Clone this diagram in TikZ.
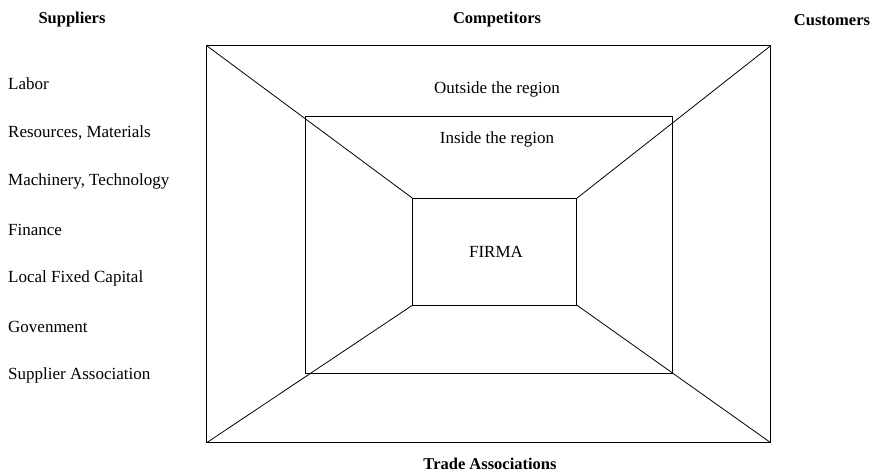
\documentclass[tikz,border=0pt]{standalone}
\usepackage{fontspec}
\setmainfont{Liberation Serif}
\begin{document}
\begin{tikzpicture}[x=1pt,y=-1pt,
  box/.style={draw, line width=0.9pt, inner sep=0pt, outer sep=0pt},
  diag/.style={line width=0.8pt},
  head/.style={font=\fontsize{16.5}{19}\selectfont\bfseries, inner sep=0pt},
  lbl/.style={font=\fontsize{17}{20}\selectfont, inner sep=0pt},
  item/.style={font=\fontsize{17}{20}\selectfont, inner sep=0pt, anchor=west}]
\useasboundingbox (0,0) rectangle (875,472);
\node[box, minimum width=564pt, minimum height=397pt] (outer) at (488.7,244.2) {};
\node[box, minimum width=367pt, minimum height=256.6pt] (middle) at (488.5,245) {};
\node[box, minimum width=164pt, minimum height=106.7pt] (inner) at (494.7,251.7) {};
\draw[diag] (outer.north west) -- (inner.north west);
\draw[diag] (outer.north east) -- (inner.north east);
\draw[diag] (outer.south west) -- (inner.south west);
\draw[diag] (outer.south east) -- (inner.south east);
\node[head] (sup) at (72,20) {Suppliers};
\node[head] (comp) at (497,20) {Competitors};
\node[head] (cust) at (832,20) {Customers};
\node[head] (trade) at (490,464) {Trade Associations};
\node[lbl] (outside) at (497,89) {Outside the region};
\node[lbl] (insider) at (497,139) {Inside the region};
\node[lbl] (firma) at (496,252) {FIRMA};
\node[item] (l1) at (8,84) {Labor};
\node[item] (l2) at (8,133) {Resources, Materials};
\node[item] (l3) at (8,181) {Machinery, Technology};
\node[item] (l4) at (8,230) {Finance};
\node[item] (l5) at (8,278) {Local Fixed Capital};
\node[item] (l6) at (8,327) {Govenment};
\node[item] (l7) at (8,375) {Supplier Association};
\end{tikzpicture}
\end{document}
